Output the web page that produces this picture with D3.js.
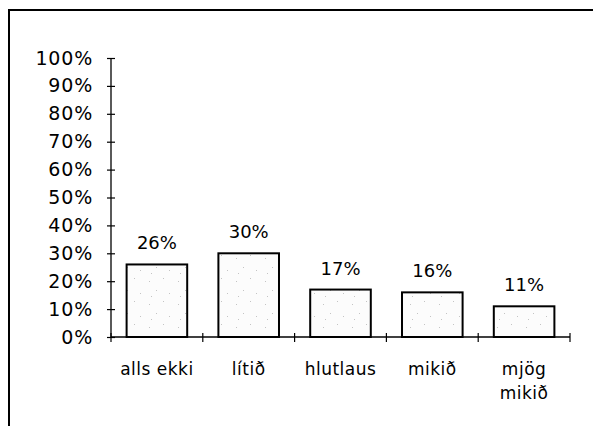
<!DOCTYPE html>
<html>
<head>
<meta charset="utf-8">
<script src="https://cdn.jsdelivr.net/npm/d3@7"></script>
<style>
  body { margin: 0; background: #fff; }
  svg { display: block; font-family: "DejaVu Sans", sans-serif; }
</style>
</head>
<body>
<div id="chart"></div>
<script>
// data
const categories = ["alls ekki", "lítið", "hlutlaus", "mikið", "mjög mikið"];
const values = [26, 30, 17, 16, 11];
const yTicks = [0, 10, 20, 30, 40, 50, 60, 70, 80, 90, 100];

const width = 593, height = 426;
const plotLeft = 111, plotRight = 570, plotTop = 58, plotBottom = 337;

const svg = d3.select("#chart").append("svg")
  .attr("width", width)
  .attr("height", height);

// stippled fill for bars
const pat = svg.append("defs").append("pattern")
  .attr("id", "stip")
  .attr("patternUnits", "userSpaceOnUse")
  .attr("width", 29).attr("height", 23);
pat.append("rect").attr("width", 29).attr("height", 23).attr("fill", "#fcfcfc");
[[4, 5], [18, 2], [11, 14], [24, 17], [6, 20]].forEach(p => {
  pat.append("rect").attr("x", p[0]).attr("y", p[1])
    .attr("width", 1).attr("height", 1).attr("fill", "#c4c4c4");
});

// frame (only top and left are visible)
svg.append("path")
  .attr("d", `M9,${height} V10 H${width}`)
  .attr("fill", "none")
  .attr("stroke", "#000")
  .attr("stroke-width", 2);

const x = d3.scaleBand().domain(categories).range([plotLeft, plotRight]).padding(0);
const y = d3.scaleLinear().domain([0, 100]).range([plotBottom, plotTop]);

// y axis
const yAxis = svg.append("g")
  .attr("transform", `translate(${plotLeft},0)`)
  .call(d3.axisLeft(y).tickValues(yTicks).tickSize(4).tickPadding(14)
    .tickFormat(d => d + "%"));
yAxis.attr("font-family", null).attr("font-size", null);
yAxis.select(".domain").attr("d", `M0,${plotTop}V${plotBottom}`).attr("stroke-width", 1.3);
yAxis.selectAll(".tick line").attr("x1", 4).attr("stroke-width", 1.2);
yAxis.selectAll(".tick text")
  .style("font-size", "19px")
  .style("letter-spacing", "0.8px")
  .attr("fill", "#000");

// bars
const bw = x.bandwidth() * 0.66;
svg.selectAll(".bar")
  .data(values)
  .enter().append("rect")
  .attr("class", "bar")
  .attr("x", (d, i) => x(categories[i]) + (x.bandwidth() - bw) / 2)
  .attr("y", d => y(d))
  .attr("width", bw)
  .attr("height", d => y(0) - y(d))
  .attr("fill", "url(#stip)")
  .attr("stroke", "#000")
  .attr("stroke-width", 2);

// x axis line and boundary ticks
svg.append("line")
  .attr("x1", plotLeft).attr("x2", plotRight)
  .attr("y1", y(0)).attr("y2", y(0))
  .attr("stroke", "#000").attr("stroke-width", 1.3);
const edges = categories.map(c => x(c)).concat([x.range()[1]]);
svg.selectAll(".xtick")
  .data(edges)
  .enter().append("line")
  .attr("class", "xtick")
  .attr("x1", d => d).attr("x2", d => d)
  .attr("y1", y(0) - 4).attr("y2", y(0) + 5)
  .attr("stroke", "#000").attr("stroke-width", 1.2);

// value labels
svg.selectAll(".val")
  .data(values)
  .enter().append("text")
  .attr("class", "val")
  .attr("x", (d, i) => x(categories[i]) + x.bandwidth() / 2)
  .attr("y", d => y(d) - 15)
  .attr("text-anchor", "middle")
  .style("font-size", "18px")
  .text(d => d + "%");

// category labels (long one wraps)
const cat = svg.selectAll(".cat")
  .data(categories)
  .enter().append("text")
  .attr("class", "cat")
  .attr("text-anchor", "middle")
  .style("font-size", "17px")
  .style("letter-spacing", "0.5px");
cat.each(function(c) {
  const words = c === "mjög mikið" ? c.split(" ") : [c];
  const t = d3.select(this);
  words.forEach((w, i) => {
    t.append("tspan")
      .attr("x", x(c) + x.bandwidth() / 2)
      .attr("y", 375 + i * 24)
      .text(w);
  });
});
</script>
</body>
</html>
